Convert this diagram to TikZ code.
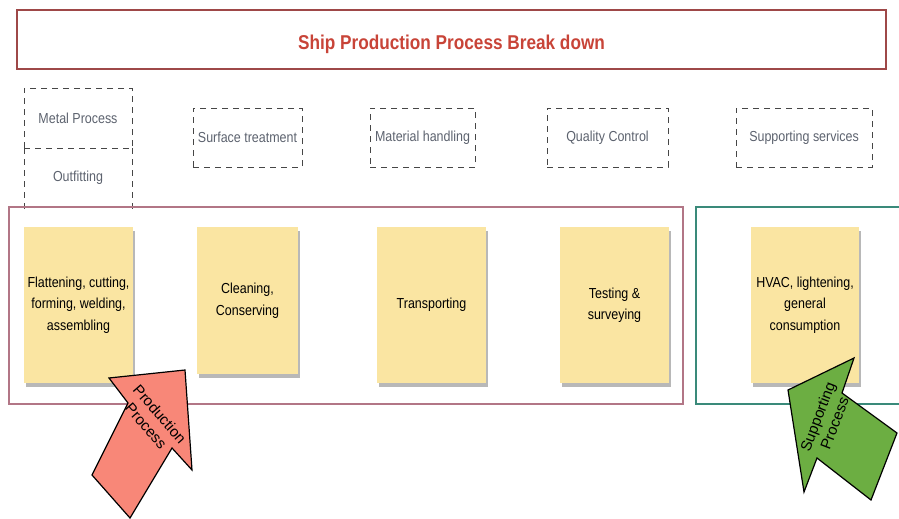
\documentclass[tikz,border=0pt]{standalone}
\usepackage{fontspec}
\setmainfont{Liberation Sans}
\newfontfamily\narrowfont[FakeStretch=0.86]{Liberation Sans}
\usetikzlibrary{positioning}
\usetikzlibrary{shadows}
\definecolor{titlered}{RGB}{200,68,56}
\definecolor{titleframe}{RGB}{158,72,72}
\definecolor{labelgray}{RGB}{92,98,110}
\definecolor{dashgray}{RGB}{70,70,70}
\definecolor{noteyellow}{RGB}{250,229,162}
\definecolor{prodframe}{RGB}{178,118,134}
\definecolor{suppframe}{RGB}{58,138,122}
\definecolor{arrowred}{RGB}{248,135,120}
\definecolor{arrowgreen}{RGB}{108,174,66}

\begin{document}
\begin{tikzpicture}[
            x = 1pt, y = -1pt, % pixel grid of the page
            font = \narrowfont\fontsize{14.5}{21.5}\selectfont,
            title/.style = {draw = titleframe, line width = 1.4pt, inner sep = 0pt,
                            text = titlered, font = \narrowfont\bfseries\fontsize{20}{24}\selectfont},
            dashline/.style = {draw = dashgray, line width = 1pt, dash pattern = on 6pt off 5pt},
            stage/.style = {dashline, text = labelgray, inner sep = 0pt, outer sep = 0pt, minimum height = 59pt},
            frame/.style = {draw, line width = 1.2pt, inner sep = 0pt},
            bigarrow/.style = {draw = black, line width = 1.2pt, line join = miter},
            arrowtext/.style = {align = center, font = \fontsize{15}{18}\selectfont}
        ]

        \tikzstyle{note}=[
            fill = noteyellow,
            align = center,
            inner sep = 0pt,
            minimum height = 156pt,
            drop shadow = {shadow xshift = 2pt, shadow yshift = -4pt, fill = black, opacity = 0.28}
        ]

        \useasboundingbox (0,0) rectangle (899,519);
        \clip (0,0) rectangle (899,519);

        % heading
        \node[title, minimum width = 869pt, minimum height = 59pt] (T) at (451.5,39.5) {\raisebox{-10pt}[0pt][0pt]{Ship Production Process Break down}};

        % stages
        \node[stage, minimum width = 108pt, minimum height = 60pt] (MP) at (78,118) {Metal Process};
        \node[stage, draw = none, minimum width = 108pt] (OF) [below = 0pt of MP] {Outfitting};
        \draw[dashline] (MP.south west) -- ([yshift = -2pt]OF.south west);
        \draw[dashline] (MP.south east) -- ([yshift = -2pt]OF.south east);
        \node[stage, minimum width = 109pt] (ST) at (247.5,137.5) {Surface treatment};
        \node[stage, minimum width = 105pt] (MH) at (422.5,137.5) {Material handling};
        \node[stage, minimum width = 121pt] (QC) at (607.5,137.5) {Quality Control};
        \node[stage, minimum width = 136pt] (SS) at (804,137.5) {Supporting services};

        % process groups
        \node[frame, draw = prodframe, minimum width = 674pt, minimum height = 197pt] (PG) at (346,305.5) {};
        \node[frame, draw = suppframe, minimum width = 220pt, minimum height = 197pt] (SG) at (806,305.5) {};

        % activities
        \node[note, minimum width = 109pt] (A1) at (78.5,305) {Flattening, cutting,\\ forming, welding,\\ assembling};
        \node[note, minimum width = 101pt, minimum height = 147pt] (A2) at (247.5,300.5) {Cleaning,\\ Conserving};
        \node[note, minimum width = 109pt] (A3) at (431.5,305) {Transporting};
        \node[note, minimum width = 109pt] (A4) at (614.5,305) {Testing \&\\ surveying};
        \node[note, minimum width = 108pt] (A5) at (805,305) {HVAC, lightening,\\ general\\ consumption};

        % block arrows
        \draw[bigarrow, fill = arrowred] (109,378) -- (185,370) -- (192,470) -- (172,448)
            -- (130,518) -- (92,475) -- (128,403) -- cycle;
        \node[arrowtext, rotate = -49] (PP) at (153,420) {Production\\ Process};

        \draw[bigarrow, fill = arrowgreen] (854,358) -- (788,390) -- (804,492) -- (817,458)
            -- (871,500) -- (897,433) -- (842,393) -- cycle;
        \node[arrowtext, rotate = 69] (SP) at (826,420) {Supporting\\ Process};

\end{tikzpicture}
\end{document}
